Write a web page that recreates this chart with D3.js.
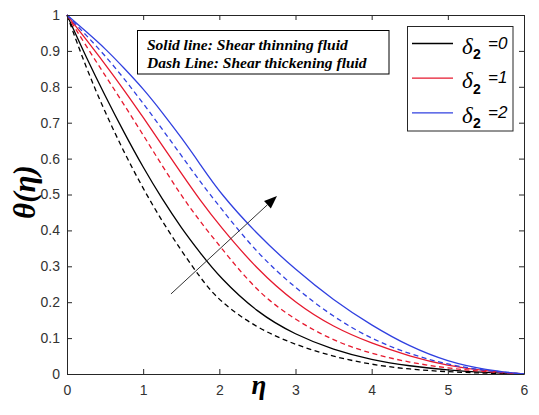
<!DOCTYPE html>
<html><head><meta charset="utf-8">
<script src="https://cdn.jsdelivr.net/npm/d3@7/dist/d3.min.js"></script>
<style>
html,body{margin:0;padding:0;background:#fff;}
svg{display:block;}
</style>
</head><body>
<svg id="chart" width="539" height="415"></svg>
<script>
// ---- data ----
const eta = [0,0.25,0.5,0.75,1,1.25,1.5,1.75,2,2.5,3,3.5,4,4.5,5,5.5,6];
const solidD0  = [1,0.883,0.775,0.672,0.575,0.487,0.407,0.337,0.27,0.17,0.109,0.067,0.039,0.022,0.011,0.004,0];
const dashD0   = [1,0.853,0.729,0.617,0.516,0.425,0.344,0.268,0.202,0.127,0.081,0.048,0.026,0.013,0.006,0.002,0];
const solidD1  = [1,0.932,0.863,0.791,0.715,0.637,0.559,0.483,0.414,0.29,0.197,0.13,0.085,0.049,0.023,0.008,0];
const dashD1   = [1,0.914,0.832,0.75,0.666,0.58,0.497,0.424,0.358,0.227,0.15,0.092,0.056,0.032,0.016,0.006,0];
const solidD2  = [1,0.954,0.907,0.852,0.795,0.729,0.659,0.584,0.506,0.388,0.29,0.205,0.135,0.076,0.034,0.011,0];
const dashD2   = [1,0.944,0.887,0.823,0.754,0.682,0.609,0.535,0.467,0.335,0.239,0.158,0.097,0.055,0.026,0.009,0];
const legendLabels = ["0","1","2"];
const xTicks = [0,1,2,3,4,5,6];
const yTicks = [0,0.1,0.2,0.3,0.4,0.5,0.6,0.7,0.8,0.9,1];
const noteLines = ["Solid line: Shear thinning fluid","Dash Line: Shear thickening fluid"];
const arrowFrom = [1.365, 0.223];
const arrowTo = [2.757, 0.496];

const colors = ["#000000","#e6192e","#3040e0"];
const series = [
  {vals: solidD0, c:0, dash:false},
  {vals: dashD0,  c:0, dash:true},
  {vals: solidD1, c:1, dash:false},
  {vals: dashD1,  c:1, dash:true},
  {vals: solidD2, c:2, dash:false},
  {vals: dashD2,  c:2, dash:true}
];

// ---- layout ----
const L=67, R=524, T=15, B=374;
const svg = d3.select("#chart");
svg.append("rect").attr("width",539).attr("height",415).attr("fill","#fff");
const x = d3.scaleLinear().domain([0,6]).range([L,R]);
const y = d3.scaleLinear().domain([0,1]).range([B,T]);
const axisColor = "#262626";
const tickFont = "'Liberation Sans', Arial, sans-serif";

// curves
const line = d3.line().x((d,i)=>x(eta[i])).y(d=>y(d)).curve(d3.curveBasis);
const g = svg.append("g");
series.forEach(s=>{
  g.append("path").attr("d", line(s.vals)).attr("fill","none")
   .attr("stroke", colors[s.c]).attr("stroke-width",1.3)
   .attr("stroke-dasharray", s.dash ? "5,3.5" : null);
});

// axes
function styleAxis(sel){
  sel.selectAll("path.domain").attr("stroke",axisColor).attr("stroke-width",1);
  sel.selectAll(".tick line").attr("stroke",axisColor);
  sel.selectAll("text").attr("fill","#333").style("font-family",tickFont).style("font-size","14px");
}
const fmt = d3.format("~g");
svg.append("g").attr("transform",`translate(0,${B})`)
  .call(d3.axisBottom(x).tickValues(xTicks).tickFormat(fmt).tickSize(-5).tickSizeOuter(0).tickPadding(11))
  .call(styleAxis);
svg.append("g").attr("transform",`translate(${L},0)`)
  .call(d3.axisLeft(y).tickValues(yTicks).tickFormat(fmt).tickSize(-5).tickSizeOuter(0).tickPadding(7))
  .call(styleAxis);
svg.append("g").attr("transform",`translate(0,${T})`)
  .call(d3.axisTop(x).tickValues(xTicks).tickFormat("").tickSize(-5).tickSizeOuter(0))
  .call(styleAxis);
svg.append("g").attr("transform",`translate(${R},0)`)
  .call(d3.axisRight(y).tickValues(yTicks).tickFormat("").tickSize(-5).tickSizeOuter(0))
  .call(styleAxis);

// axis labels
svg.append("text").attr("transform",`translate(35,192) rotate(-90)`)
  .attr("text-anchor","middle")
  .style("font-family","'Liberation Serif', 'Times New Roman', serif")
  .style("font-style","italic").style("font-weight","bold").style("font-size","31px")
  .attr("fill","#000").text("θ(η)");
svg.append("text").attr("x",259).attr("y",394).attr("text-anchor","middle")
  .style("font-family","'Liberation Serif', 'Times New Roman', serif")
  .style("font-style","italic").style("font-weight","bold").style("font-size","27px")
  .attr("fill","#000").text("η");

// note box
svg.append("rect").attr("x",137.5).attr("y",30.5).attr("width",251.5).attr("height",43.5)
  .attr("fill","#fff").attr("stroke","#000").attr("stroke-width",1);
noteLines.forEach((t,i)=>{
  svg.append("text").attr("x",147).attr("y",50+i*18)
    .style("font-family","'Liberation Serif', 'Times New Roman', serif")
    .style("font-style","italic").style("font-weight","bold").style("font-size","15.5px")
    .attr("fill","#000").text(t);
});

// legend
svg.append("rect").attr("x",407.5).attr("y",26.5).attr("width",105.5).attr("height",104.5)
  .attr("fill","#fff").attr("stroke",axisColor).attr("stroke-width",1);
legendLabels.forEach((lab,i)=>{
  const ly = 43.5 + i*34.7;
  svg.append("line").attr("x1",412).attr("x2",453).attr("y1",ly).attr("y2",ly)
    .attr("stroke",colors[i]).attr("stroke-width",1.3);
  svg.append("text").attr("x",462).attr("y",ly+10)
    .style("font-family","'Liberation Serif', 'Times New Roman', serif")
    .style("font-style","italic").style("font-size","23px").attr("fill","#000").text("δ");
  svg.append("text").attr("x",473).attr("y",ly+15.5)
    .style("font-family",tickFont).style("font-weight","bold").style("font-size","14px")
    .attr("fill","#000").text("2");
  svg.append("text").attr("x",488).attr("y",ly+5)
    .style("font-family",tickFont).style("font-style","italic").style("font-size","17px")
    .attr("fill","#000").text("=" + lab);
});

// arrow annotation
const ax0 = x(arrowFrom[0]), ay0 = y(arrowFrom[1]);
const ax1 = x(arrowTo[0]), ay1 = y(arrowTo[1]);
const ang = Math.atan2(ay1-ay0, ax1-ax0);
const hl = 13, hw = 5;
const bx = ax1 - hl*Math.cos(ang), by = ay1 - hl*Math.sin(ang);
svg.append("line").attr("x1",ax0).attr("y1",ay0).attr("x2",bx).attr("y2",by)
  .attr("stroke","#333").attr("stroke-width",1);
svg.append("path")
  .attr("d",`M${ax1},${ay1} L${bx - hw*Math.sin(ang)},${by + hw*Math.cos(ang)} L${bx + hw*Math.sin(ang)},${by - hw*Math.cos(ang)} Z`)
  .attr("fill","#000");
</script>
</body></html>
